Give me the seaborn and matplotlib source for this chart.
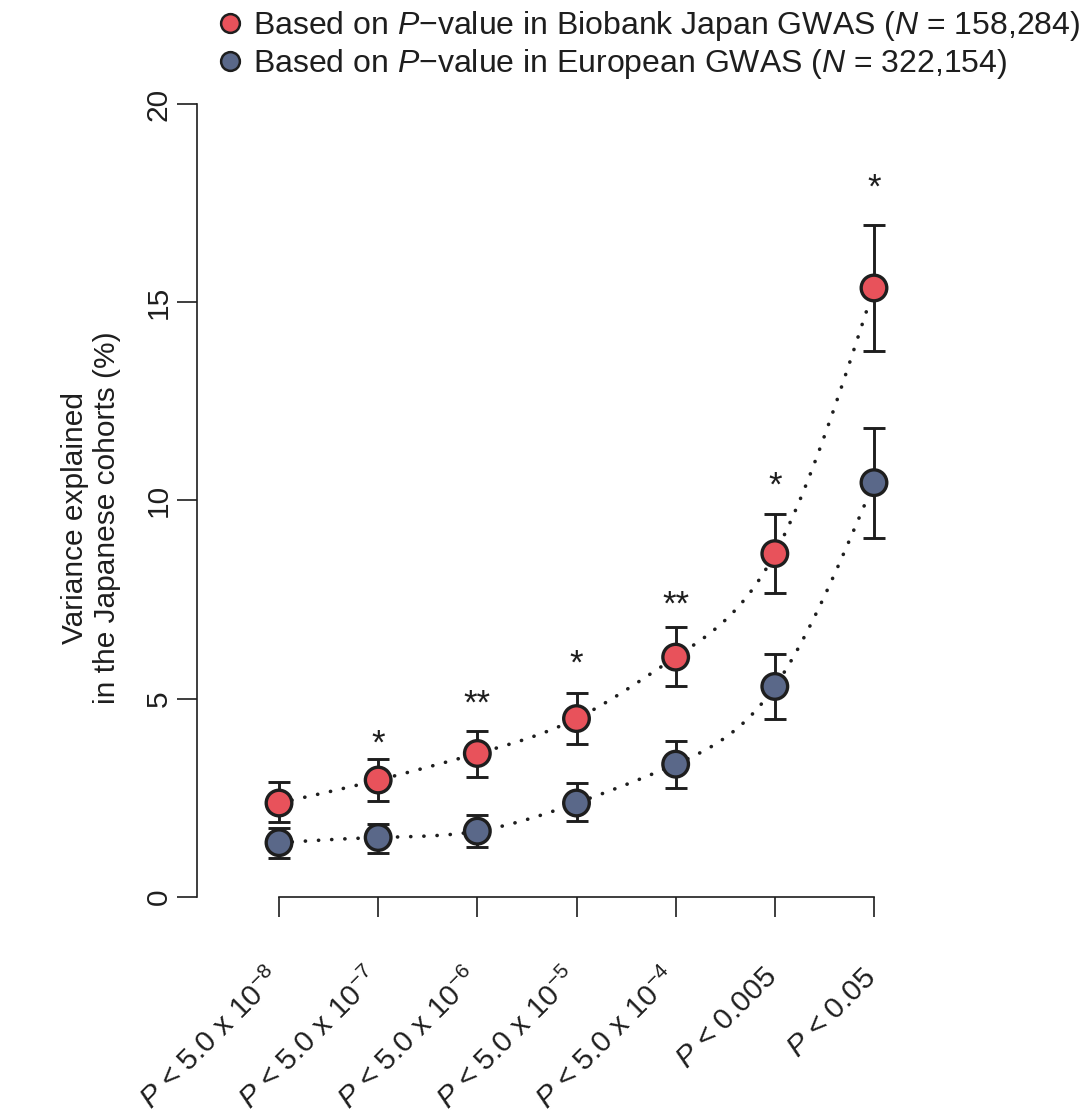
import numpy as np
import pandas as pd
import matplotlib
matplotlib.use('Agg')
import matplotlib.pyplot as plt
from matplotlib.lines import Line2D
from matplotlib.transforms import ScaledTranslation
import seaborn as sns

# values
thresholds = [r'$\mathit{P}$ < 5.0 x 10$^{-8}$', r'$\mathit{P}$ < 5.0 x 10$^{-7}$',
              r'$\mathit{P}$ < 5.0 x 10$^{-6}$', r'$\mathit{P}$ < 5.0 x 10$^{-5}$',
              r'$\mathit{P}$ < 5.0 x 10$^{-4}$', r'$\mathit{P}$ < 0.005', r'$\mathit{P}$ < 0.05']
bbj_val = [2.37, 2.95, 3.62, 4.50, 6.05, 8.66, 15.36]
bbj_lo = [1.89, 2.41, 3.03, 3.87, 5.33, 7.67, 13.76]
bbj_hi = [2.90, 3.48, 4.19, 5.15, 6.81, 9.65, 16.96]
eur_val = [1.37, 1.50, 1.66, 2.37, 3.35, 5.31, 10.45]
eur_lo = [0.99, 1.11, 1.27, 1.91, 2.76, 4.49, 9.06]
eur_hi = [1.74, 1.85, 2.06, 2.88, 3.94, 6.12, 11.83]
stars = ['', '*', '**', '*', '**', '*', '*']
star_y = [np.nan, 4.0, 5.0, 6.0, 7.5, 10.5, 18.0]
series = ['Based on $\\mathit{P}$\u2212value in Biobank Japan GWAS ($\\mathit{N}$ = 158,284)',
          'Based on $\\mathit{P}$\u2212value in European GWAS ($\\mathit{N}$ = 322,154)']
colors = ['#E8525B', '#5A6889']

sns.set_style('ticks')
plt.rcParams['font.family'] = ['Liberation Sans', 'DejaVu Sans']
plt.rcParams['mathtext.fontset'] = 'custom'
plt.rcParams['mathtext.rm'] = 'Liberation Sans'
plt.rcParams['mathtext.it'] = 'Liberation Sans:italic'
plt.rcParams['mathtext.default'] = 'regular'
fs = 21.5
ink = '#1e1e1e'


def smooth(x, y, n=300):
    # natural cubic spline for the dotted guide lines
    x = np.asarray(x, float)
    y = np.asarray(y, float)
    k = len(x)
    h = np.diff(x)
    A = np.zeros((k, k))
    b = np.zeros(k)
    A[0, 0] = A[-1, -1] = 1
    for i in range(1, k - 1):
        A[i, i - 1] = h[i - 1]
        A[i, i] = 2 * (h[i - 1] + h[i])
        A[i, i + 1] = h[i]
        b[i] = 6 * ((y[i + 1] - y[i]) / h[i] - (y[i] - y[i - 1]) / h[i - 1])
    M = np.linalg.solve(A, b)
    xs = np.linspace(x[0], x[-1], n)
    idx = np.clip(np.searchsorted(x, xs) - 1, 0, k - 2)
    x0, x1 = x[idx], x[idx + 1]
    hh = x1 - x0
    t0, t1 = x1 - xs, xs - x0
    ys = (M[idx] * t0 ** 3 / (6 * hh) + M[idx + 1] * t1 ** 3 / (6 * hh)
          + (y[idx] / hh - M[idx] * hh / 6) * t0 + (y[idx + 1] / hh - M[idx + 1] * hh / 6) * t1)
    return xs, ys


pos = np.arange(len(thresholds))
df = pd.DataFrame({'pos': np.concatenate([pos, pos]),
                   'value': bbj_val + eur_val,
                   'source': [series[0]] * len(pos) + [series[1]] * len(pos)})

fig = plt.figure(figsize=(10.91, 11.2), dpi=100)
ax = fig.add_axes([197 / 1091, 1 - 897 / 1120, (956 - 197) / 1091, (897 - 104) / 1120])

for val, lo, hi in [(bbj_val, bbj_lo, bbj_hi), (eur_val, eur_lo, eur_hi)]:
    xs, ys = smooth(pos, val)
    ax.plot(xs, ys, color=ink, lw=2.6, ls=(0, (0.05, 3.6)), dash_capstyle='round', zorder=1)
    v = np.array(val)
    ax.errorbar(pos, v, yerr=[v - np.array(lo), np.array(hi) - v], fmt='none',
                ecolor=ink, elinewidth=2.1, capsize=8, capthick=2.1, zorder=2)

sns.scatterplot(data=df, x='pos', y='value', hue='source', palette=colors, s=340,
                edgecolor=ink, linewidth=2.4, legend=False, zorder=3, ax=ax, clip_on=False)

for p, s, sy in zip(pos, stars, star_y):
    if s:
        ax.annotate(s, (p, sy), xytext=(0, -10.6), textcoords='offset points',
                    ha='center', va='baseline', fontsize=25, color=ink)

ax.set_xlim(-0.827, 6.827)
ax.set_ylim(0, 20)
ax.set_yticks([0, 5, 10, 15, 20])
ax.set_xticks(pos)
ax.set_xticklabels(thresholds, rotation=45, ha='right', va='top')
ax.set_xlabel('')
ax.set_ylabel('')
sns.despine(ax=ax)
ax.spines['left'].set_bounds(0, 20)
ax.spines['bottom'].set_bounds(0, 6)
for sp in ['left', 'bottom']:
    ax.spines[sp].set_linewidth(1.2)
    ax.spines[sp].set_color(ink)
ax.tick_params(axis='both', length=14.4, width=1.2, color=ink, labelsize=fs, labelcolor=ink)
ax.tick_params(axis='x', pad=33)
ax.tick_params(axis='y', pad=3, labelrotation=90)
for lab in ax.get_yticklabels():
    lab.set_va('center')
shift = ScaledTranslation(8 / 100, 0, fig.dpi_scale_trans)
for lab in ax.get_xticklabels():
    lab.set_transform(lab.get_transform() + shift)

fig.text(91 / 1091, 1 - 518 / 1120, 'Variance explained\nin the Japanese cohorts (%)',
         rotation=90, ha='center', va='center', multialignment='center',
         fontsize=fs, color=ink, linespacing=1.15)

handles = [Line2D([], [], ls='none', marker='o', markersize=13.5, markerfacecolor=c,
                  markeredgecolor=ink, markeredgewidth=1.8) for c in colors]
fig.legend(handles, series, loc='upper left', bbox_to_anchor=(218 / 1091, 1 - 9 / 1120),
           frameon=False, fontsize=23, handlelength=0.75, handletextpad=0.35,
           labelspacing=0.12, borderpad=0, borderaxespad=0, labelcolor=ink)

fig.savefig('out.png', dpi=100)
